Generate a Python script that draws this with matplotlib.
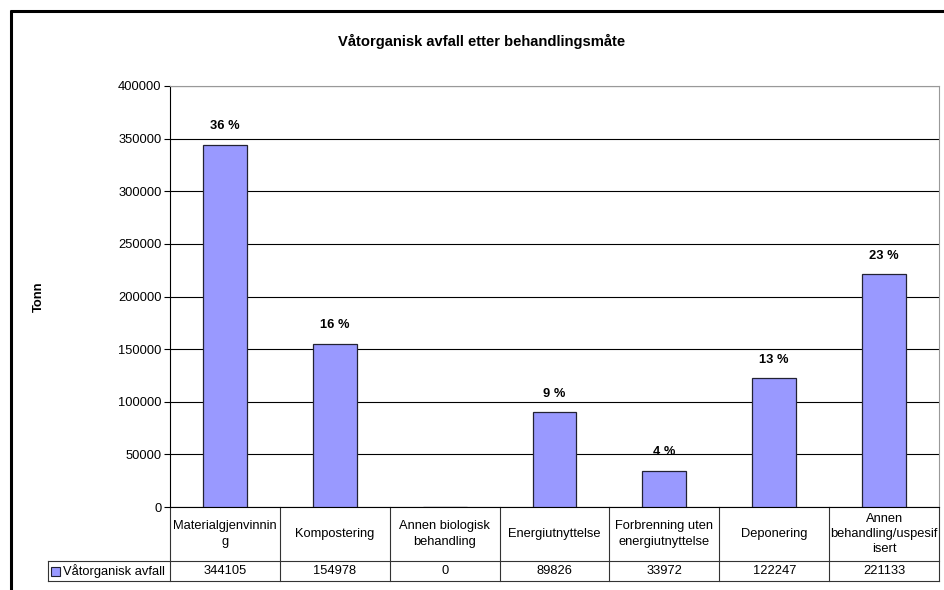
import numpy as np
import matplotlib
matplotlib.use("Agg")
import matplotlib.pyplot as plt
from matplotlib.lines import Line2D
from matplotlib.patches import Rectangle

plt.rcParams['font.family'] = ['Liberation Sans', 'DejaVu Sans']

# --- DATA
categories = ["Materialgjenvinnin\ng", "Kompostering", "Annen biologisk\nbehandling",
              "Energiutnyttelse", "Forbrenning uten\nenergiutnyttelse", "Deponering",
              "Annen\nbehandling/uspesif\nisert"]
values = [344105, 154978, 0, 89826, 33972, 122247, 221133]
pct_labels = ["36 %", "16 %", "", "9 %", "4 %", "13 %", "23 %"]
series_name = "Våtorganisk avfall"
yticks = [0, 50000, 100000, 150000, 200000, 250000, 300000, 350000, 400000]

BAR_COLOR = "#9999FF"
FS = 9.3
W, H = 944, 590

fig = plt.figure(figsize=(W / 100, H / 100), dpi=100)
ax = fig.add_axes([170 / W, (H - 507) / H, (939 - 170) / W, (507 - 86) / H])

x = np.arange(len(values))
ax.bar(x, values, width=0.4, color=BAR_COLOR, edgecolor="#222233", linewidth=0.9, zorder=3)

for xi, v, lab in zip(x, values, pct_labels):
    if lab:
        ax.annotate(lab, (xi, v), xytext=(0, 13.5), textcoords="offset points",
                    ha="center", va="center", fontsize=FS, fontweight="bold")

ax.set_xlim(-0.5, len(values) - 0.5)
ax.set_ylim(0, 400000)
ax.set_yticks(yticks)
ax.set_yticklabels([str(t) for t in yticks], fontsize=FS)
ax.tick_params(axis="y", length=4, width=0.8, pad=2)
ax.set_xticks([])
ax.yaxis.grid(True, color="black", linewidth=0.8, zorder=0)
ax.set_axisbelow(True)
ax.spines["top"].set_color("#999999")
ax.spines["right"].set_color("#999999")
ax.spines["left"].set_color("black")
ax.spines["bottom"].set_color("black")
for s in ax.spines.values():
    s.set_linewidth(0.8)

ax.set_ylabel("Tonn", fontsize=FS, fontweight="bold", labelpad=0)
ax.yaxis.set_label_coords((45 - 170) / (939 - 170), 0.5)
fig.text(482 / W, (H - 41) / H, "Våtorganisk avfall etter behandlingsmåte",
         ha="center", va="center", fontsize=10.6, fontweight="bold")

# --- DATA TABLE
tr = ax.get_xaxis_transform()
ax_h = 507 - 86
row1 = -(561 - 507) / ax_h
row2 = -(581 - 507) / ax_h
px_per_cat = (939 - 170) / len(values)
leg_left = -0.5 + (48 - 170) / px_per_cat
lc = "#333333"

for k in range(len(values) + 1):
    b = k - 0.5
    ax.add_line(Line2D([b, b], [0, row2], transform=tr, color=lc, lw=0.8, clip_on=False))
ax.add_line(Line2D([leg_left, len(values) - 0.5], [row1, row1], transform=tr, color=lc, lw=0.8, clip_on=False))
ax.add_line(Line2D([leg_left, len(values) - 0.5], [row2, row2], transform=tr, color=lc, lw=0.8, clip_on=False))
ax.add_line(Line2D([leg_left, leg_left], [row1, row2], transform=tr, color=lc, lw=0.8, clip_on=False))

for xi, cat, v in zip(x, categories, values):
    ax.text(xi, row1 / 2, cat, transform=tr, ha="center", va="center",
            fontsize=FS, linespacing=1.35)
    ax.text(xi, (row1 + row2) / 2, str(v), transform=tr, ha="center", va="center", fontsize=FS)

sq_w = 9 / px_per_cat
sq_h = 9 / ax_h
ax.add_patch(Rectangle((leg_left + 3 / px_per_cat, (row1 + row2) / 2 - sq_h / 2), sq_w, sq_h,
                       transform=tr, facecolor=BAR_COLOR, edgecolor="#222233", lw=0.8, clip_on=False))
ax.text(leg_left + 15 / px_per_cat, (row1 + row2) / 2, series_name, transform=tr,
        ha="left", va="center", fontsize=FS)

# --- OUTER FRAME
fig.add_artist(Line2D([11 / W, 11 / W], [0, (H - 10) / H], color="black", lw=2.2,
                      solid_capstyle="butt"))
fig.add_artist(Line2D([10 / W, 1], [(H - 11) / H, (H - 11) / H], color="black", lw=2.2,
                      solid_capstyle="butt"))

fig.savefig("out.png", dpi=100)
